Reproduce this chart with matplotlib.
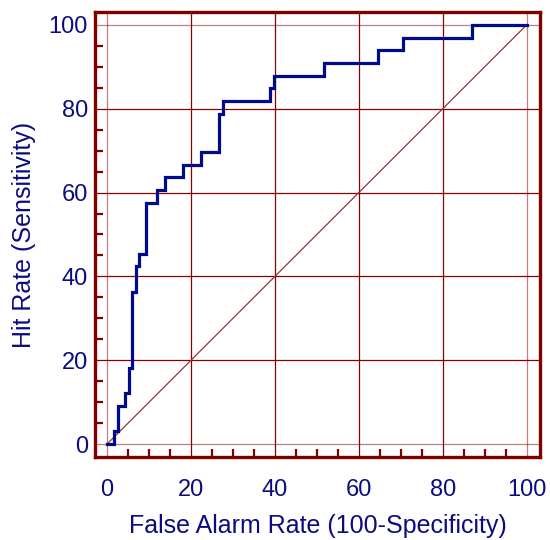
import matplotlib
matplotlib.use("Agg")
import matplotlib.pyplot as plt
from matplotlib.ticker import MultipleLocator

plt.rcParams['font.family'] = ['Liberation Sans', 'DejaVu Sans']

# ROC curve step points (false alarm rate %, hit rate %)
false_alarm = [0, 1.6, 2.5, 4.3, 5.2, 6.0, 6.8, 7.5, 9.2, 12.0, 13.8, 18.0,
               22.3, 26.6, 27.6, 38.9, 39.7, 51.7, 64.5, 70.6, 87.1, 100]
hit_rate = [0, 3.03, 9.09, 12.12, 18.18, 36.36, 42.42, 45.45, 57.58, 60.61,
            63.64, 66.67, 69.70, 78.79, 81.82, 84.85, 87.88, 90.91, 93.94,
            96.97, 100, 100]
diag_x = [0, 100]
diag_y = [0, 100]
major_ticks = [0, 20, 40, 60, 80, 100]

frame_col = '#800000'
grid_col = '#8b0000'
text_col = '#0c0c80'
curve_col = '#000a8c'

fig = plt.figure(figsize=(5.5, 5.4), dpi=100)
ax = fig.add_axes([0.1727, 0.1537, 0.9818 - 0.1727, 0.9778 - 0.1537])

ax.set_xlim(-2.9, 103.2)
ax.set_ylim(-3.1, 103.1)

ax.set_xticks(major_ticks)
ax.set_yticks(major_ticks)
ax.xaxis.set_minor_locator(MultipleLocator(5))
ax.yaxis.set_minor_locator(MultipleLocator(5))
ax.grid(True, which='major', color=grid_col, linewidth=0.9)
ax.set_axisbelow(True)
for gl in (ax.xaxis.get_gridlines(), ax.yaxis.get_gridlines()):
    gl[0].set_alpha(0.5)
    gl[-1].set_alpha(0.5)

ax.plot(diag_x, diag_y, color='#993333', linewidth=0.9)
ax.step(false_alarm, hit_rate, where='post', color=curve_col, linewidth=2.3,
        solid_joinstyle='miter')

for s in ax.spines.values():
    s.set_color(frame_col)
    s.set_linewidth(2.4)

ax.tick_params(axis='both', which='major', length=0, labelsize=17,
               labelcolor=text_col)
ax.tick_params(axis='x', which='major', pad=16)
ax.tick_params(axis='y', which='major', pad=5)
ax.tick_params(axis='both', which='minor', direction='in', length=6,
               width=1.6, color=frame_col)

ax.set_xlabel('False Alarm Rate (100-Specificity)', fontsize=18,
              color=text_col, labelpad=9)
ax.set_ylabel('Hit Rate (Sensitivity)', fontsize=18, color=text_col,
              labelpad=9)

fig.savefig('out.png', dpi=100)
